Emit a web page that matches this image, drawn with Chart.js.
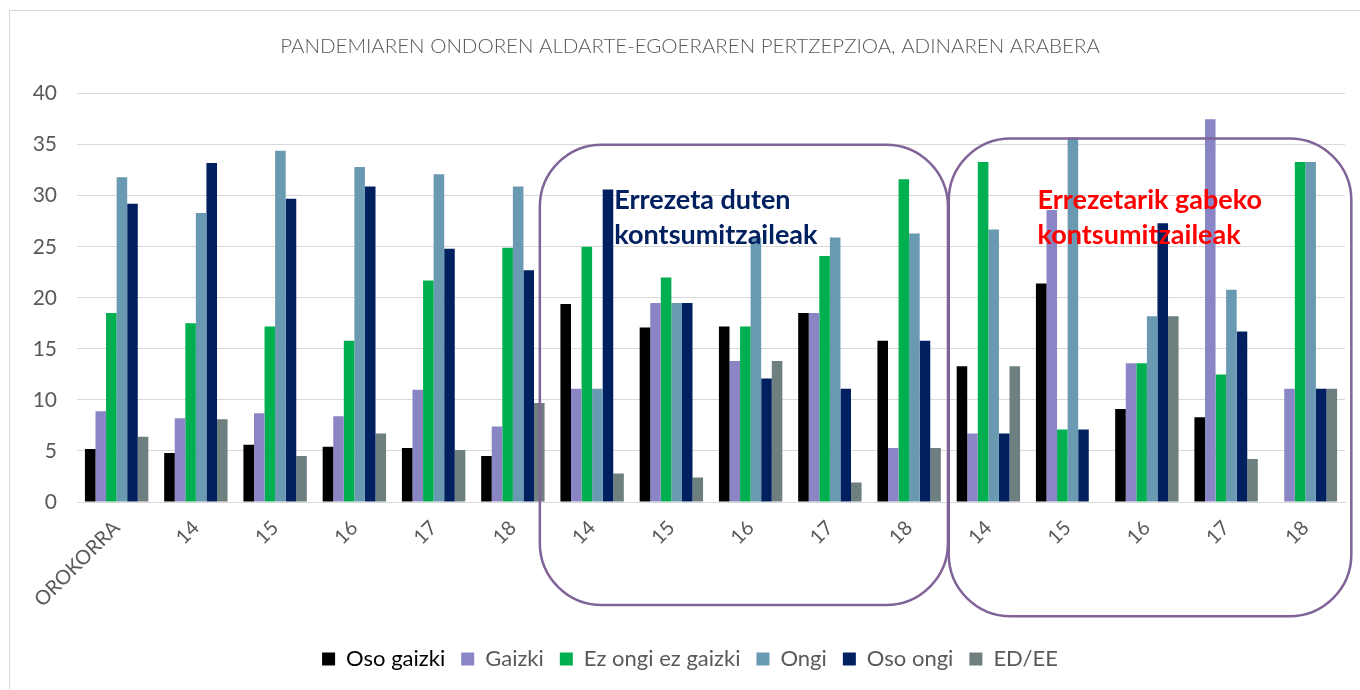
<!DOCTYPE html>
<html>
<head>
<meta charset="utf-8">
<script src="https://cdn.jsdelivr.net/npm/chart.js@4/dist/chart.umd.min.js"></script>
<style>
  html, body { margin: 0; padding: 0; background: #fff; }
  #wrap { width: 1360px; height: 690px; position: relative; }
</style>
</head>
<body>
<div id="wrap"><canvas id="mood-chart" width="1360" height="690"></canvas></div>
<script>
const categories = ['OROKORRA', '14', '15', '16', '17', '18', '14', '15', '16', '17', '18', '14', '15', '16', '17', '18'];

const osoGaizki = [5.2, 4.8, 5.6, 5.4, 5.3, 4.5, 19.4, 17.1, 17.2, 18.5, 15.8, 13.3, 21.4, 9.1, 8.3, 0];
const gaizki = [8.9, 8.2, 8.7, 8.4, 11.0, 7.4, 11.1, 19.5, 13.8, 18.5, 5.3, 6.7, 28.6, 13.6, 37.5, 11.1];
const ezOngiEzGaizki = [18.5, 17.5, 17.2, 15.8, 21.7, 24.9, 25.0, 22.0, 17.2, 24.1, 31.6, 33.3, 7.1, 13.6, 12.5, 33.3];
const ongi = [31.8, 28.3, 34.4, 32.8, 32.1, 30.9, 11.1, 19.5, 25.9, 25.9, 26.3, 26.7, 35.7, 18.2, 20.8, 33.3];
const osoOngi = [29.2, 33.2, 29.7, 30.9, 24.8, 22.7, 30.6, 19.5, 12.1, 11.1, 15.8, 6.7, 7.1, 27.3, 16.7, 11.1];
const edEe = [6.4, 8.1, 4.5, 6.7, 5.1, 9.7, 2.8, 2.4, 13.8, 1.9, 5.3, 13.3, 0, 18.2, 4.2, 11.1];

const seriesNames = ['Oso gaizki', 'Gaizki', 'Ez ongi ez gaizki', 'Ongi', 'Oso ongi', 'ED/EE'];
const seriesColors = ['#000000', '#8A86C6', '#00B050', '#6A99B2', '#002060', '#6E7F80'];
const yTicks = [0, 5, 10, 15, 20, 25, 30, 35, 40];

const titleText = 'PANDEMIAREN ONDOREN ALDARTE-EGOERAREN PERTZEPZIOA, ADINAREN ARABERA';

// rounded boxes + labels around the two groups (x in category units, y in value units)
const groupBoxes = [
  { x0: 5.34, x1: 10.49, yTop: 35, yBottom: -10.1 },
  { x0: 10.5, x1: 15.58, yTop: 35.6, yBottom: -11.2 }
];
const groupLabels = [
  { x: 6.28, lines: ['Errezeta duten', 'kontsumitzaileak'], color: '#002060' },
  { x: 11.62, lines: ['Errezetarik gabeko', 'kontsumitzaileak'], color: '#FF0000' }
];

const FONT = "Lato, 'Open Sans', 'Liberation Sans', sans-serif";

const datasets = [osoGaizki, gaizki, ezOngiEzGaizki, ongi, osoOngi, edEe].map((data, i) => ({
  label: seriesNames[i],
  data,
  backgroundColor: seriesColors[i],
  borderWidth: 0,
  categoryPercentage: 0.8,
  barPercentage: 1.0
}));

function roundRect(ctx, x, y, w, h, r) {
  ctx.beginPath();
  ctx.moveTo(x + r, y);
  ctx.lineTo(x + w - r, y);
  ctx.arcTo(x + w, y, x + w, y + r, r);
  ctx.lineTo(x + w, y + h - r);
  ctx.arcTo(x + w, y + h, x + w - r, y + h, r);
  ctx.lineTo(x + r, y + h);
  ctx.arcTo(x, y + h, x, y + h - r, r);
  ctx.lineTo(x, y + r);
  ctx.arcTo(x, y, x + r, y, r);
  ctx.closePath();
}

const framePlugin = {
  id: 'frame',
  afterLayout(chart) {
    // the original frame is a bit wider than the picture, so title/legend sit right of centre
    if (chart.titleBlock) { chart.titleBlock.left = 0; chart.titleBlock.right = 1380; }
    if (chart.legend) { chart.legend.left = 0; chart.legend.right = 1380; }
  },
  beforeDraw(chart) {
    const ctx = chart.ctx;
    ctx.save();
    ctx.fillStyle = '#fff';
    ctx.fillRect(0, 0, chart.width, chart.height);
    ctx.strokeStyle = '#D9D9D9';
    ctx.lineWidth = 1;
    ctx.strokeRect(9.5, 10.5, 1400, 1000);
    ctx.restore();
  }
};

const groupPlugin = {
  id: 'groups',
  afterDraw(chart) {
    const ctx = chart.ctx;
    const x = chart.scales.x, y = chart.scales.y;
    ctx.save();
    ctx.strokeStyle = '#7F6399';
    ctx.lineWidth = 2.5;
    groupBoxes.forEach(b => {
      const left = x.getPixelForValue(b.x0);
      const right = x.getPixelForValue(b.x1);
      const top = y.getPixelForValue(b.yTop);
      const bottom = y.getPixelForValue(b.yBottom);
      roundRect(ctx, left, top, right - left, bottom - top, 62);
      ctx.stroke();
    });
    ctx.font = "bold 27px " + FONT;
    ctx.textAlign = 'left';
    ctx.textBaseline = 'alphabetic';
    groupLabels.forEach(l => {
      ctx.fillStyle = l.color;
      const px = x.getPixelForValue(l.x);
      ctx.fillText(l.lines[0], px, y.getPixelForValue(28.7));
      ctx.fillText(l.lines[1], px, y.getPixelForValue(25.3));
    });
    ctx.restore();
  }
};

new Chart(document.getElementById('mood-chart'), {
  type: 'bar',
  data: { labels: categories, datasets },
  plugins: [framePlugin, groupPlugin],
  options: {
    responsive: false,
    animation: false,
    layout: { padding: { left: 0, right: 15, top: 0, bottom: 10 } },
    plugins: {
      title: {
        display: true,
        text: titleText,
        color: '#595959',
        font: { family: FONT, size: 20.5, weight: 300 },
        padding: { top: 34, bottom: 35 }
      },
      legend: {
        position: 'bottom',
        labels: {
          boxWidth: 13,
          boxHeight: 13,
          padding: 16,
          font: { family: FONT, size: 22 },
          generateLabels(chart) {
            return chart.data.datasets.map((ds, i) => ({
              text: ds.label,
              fillStyle: ds.backgroundColor,
              strokeStyle: ds.backgroundColor,
              lineWidth: 0,
              fontColor: i === 0 ? '#000000' : '#595959',
              datasetIndex: i,
              hidden: false
            }));
          }
        }
      },
      tooltip: { enabled: false }
    },
    scales: {
      x: {
        grid: { display: false },
        border: { display: true, color: '#D9D9D9', width: 1 },
        ticks: {
          color: '#595959',
          font: { family: FONT, size: 20 },
          minRotation: 45,
          maxRotation: 45,
          autoSkip: false,
          padding: 6
        },
        afterFit(scale) { scale.height = 130; }
      },
      y: {
        min: 0,
        max: 40,
        afterBuildTicks(scale) { scale.ticks = yTicks.map(v => ({ value: v })); },
        grid: { color: '#D9D9D9', lineWidth: 1, drawTicks: false },
        border: { display: false },
        ticks: {
          color: '#595959',
          font: { family: FONT, size: 21 },
          padding: 20
        },
        afterFit(scale) { scale.width = 77; }
      }
    }
  }
});
</script>
</body>
</html>
